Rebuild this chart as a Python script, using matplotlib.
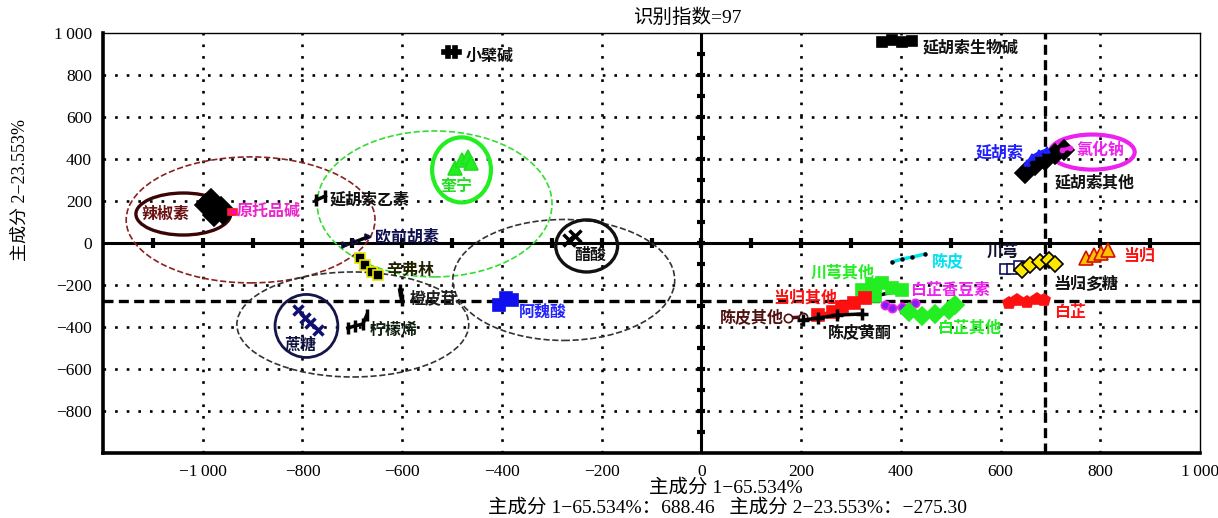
import numpy as np
import matplotlib.pyplot as plt
from matplotlib.patches import Ellipse

plt.rcParams['font.family'] = ['Liberation Serif', 'Noto Sans CJK SC']
plt.rcParams['axes.unicode_minus'] = True

# 主成分得分 (PC1, PC2)
la_jiao_su = [(-994, 181), (-978, 133), (-964, 167), (-984, 205), (-960, 143)]
yuan_tuo_pin_jian = [(-944, 148), (-938, 150)]
xiao_bo_jian = [(-509, 910), (-495, 910)]
yan_hu_suo_yi_su = [(-772, 205), (-754, 224)]
ou_qian_hu_su = [(-715, -10), (-695, 5), (-669, 29)]
xin_fu_lin = [(-685, -71), (-675, -105), (-661, -138), (-649, -152)]
cheng_pi_gan = [(-605, -224), (-603, -248), (-601, -271)]
ning_meng_xi = [(-709, -405), (-695, -395), (-679, -386), (-671, -343)]
zhe_tang = [(-808, -319), (-794, -357), (-784, -381), (-768, -414)]
kui_ning = [(-495, 357), (-481, 395), (-469, 410), (-461, 381)]
cu_suan = [(-265, 14), (-253, 33)]
a_wei_suan = [(-405, -295), (-391, -262), (-379, -271)]
yhs_sheng_wu_jian = [(363, 957), (383, 967), (403, 957), (423, 962)]
yan_hu_suo = [(653, 381), (663, 410), (677, 429), (693, 443)]
yhs_qi_ta = [(649, 333), (669, 371), (689, 395), (709, 425), (727, 443)]
lv_hua_na = [(723, 443), (739, 452)]
chuan_xiong = [(609, -124), (623, -124), (637, -110)]
dg_duo_tang = [(643, -129), (659, -105), (679, -90), (697, -81), (709, -100)]
dang_gui = [(772, -71), (788, -57), (802, -48), (816, -33)]
bai_zhi = [(617, -286), (633, -271), (653, -281), (673, -267), (687, -271)]
chen_pi = [(383, -90), (403, -76), (423, -67), (449, -52)]
cx_qi_ta = [(323, -224), (343, -200), (363, -190), (383, -214), (403, -224), (349, -252)]
bz_xiang_dou_su = [(369, -295), (383, -310), (403, -305), (429, -286)]
bz_qi_ta = [(417, -329), (443, -348), (469, -338), (497, -319), (509, -295)]
dg_qi_ta = [(233, -343), (263, -329), (283, -305), (307, -286), (329, -262)]
cp_qi_ta = [(174, -357), (204, -352)]
cp_huang_tong = [(204, -367), (234, -357), (273, -343), (323, -338)]

# 判别点
pc1_cut = 688.46
pc2_cut = -275.30

fig = plt.figure(figsize=(12.18, 5.18), dpi=100)
ax = fig.add_axes([103 / 1218, 1 - 453 / 518, 1097 / 1218, 420 / 518])
ax.set_xlim(-1200, 1000)
ax.set_ylim(-1000, 1000)


def fmt(v):
    s = f"{abs(v):,}".replace(",", "\u2009")
    return ("\u2212" if v < 0 else "") + s


xt = np.arange(-1000, 1001, 200)
yt = np.arange(-800, 1001, 200)
ax.set_xticks(xt)
ax.set_xticklabels([fmt(v) for v in xt], fontsize=12.5)
ax.set_yticks(yt)
ax.set_yticklabels([fmt(v) for v in yt], fontsize=12.5)
ax.tick_params(length=0, pad=8)

for side in ['left', 'bottom']:
    ax.spines[side].set_linewidth(2.6)
for side in ['top', 'right']:
    ax.spines[side].set_linewidth(1.0)

# 点状网格
dot = dict(color='black', lw=1.9, ls=(0, (1, 3.4)), zorder=1)
for v in np.arange(-1000, 801, 200):
    ax.axvline(v, **dot)
for v in np.arange(-800, 801, 200):
    ax.axhline(v, **dot)

# 坐标轴与刻度
ax.axhline(0, color='black', lw=2.2, zorder=2)
ax.axvline(0, color='black', lw=2.2, zorder=2)
ticks = np.arange(-1100, 1000, 100)
ax.plot(ticks, np.zeros_like(ticks), ls='none', marker='|', ms=7, mew=3, color='black', zorder=2)
ticks = np.arange(-900, 1000, 100)
ax.plot(np.zeros_like(ticks), ticks, ls='none', marker='_', ms=6, mew=3, color='black', zorder=2)

# 判别线
ax.axvline(pc1_cut, color='black', lw=2.4, ls=(0, (3, 1.6)), zorder=2)
ax.axhline(pc2_cut, color='black', lw=2.4, ls=(0, (3, 1.6)), zorder=2)

# 分组椭圆
ellipses = [
    ((-904, 110), 499, 600, '#8b2020', '--', 1.2),
    ((-535, 186), 471, 695, '#33dd33', '--', 1.2),
    ((-699, -388), 465, 500, '#333333', '--', 1.2),
    ((-276, -176), 445, 576, '#333333', '--', 1.2),
    ((-1039, 138), 190, 200, '#3a0505', '-', 2.4),
    ((-481, 348), 118, 310, '#22ee22', '-', 3.0),
    ((-792, -395), 126, 300, '#15154a', '-', 2.0),
    ((-230, -14), 124, 248, '#111111', '-', 2.4),
    ((784, 433), 170, 167, '#ee22ee', '-', 3.0),
]
for c, w, h, col, ls, lw in ellipses:
    ax.add_patch(Ellipse(c, w, h, fill=False, edgecolor=col, ls=ls, lw=lw, zorder=3))

# 各组样品：数据, 标记, 线色, 填充, 边框, 大小
groups = [
    (la_jiao_su, 'D', 'black', 'black', 'black', 11),
    (yuan_tuo_pin_jian, 's', '#ff2080', '#ff00cc', '#ff2020', 4),
    (xiao_bo_jian, 'P', 'black', 'black', 'black', 8),
    (yan_hu_suo_yi_su, '|', 'black', 'black', 'black', 9),
    (ou_qian_hu_su, '>', 'black', 'black', '#101040', 5),
    (xin_fu_lin, 's', 'black', 'black', '#e8e800', 7),
    (cheng_pi_gan, '|', 'black', 'black', 'black', 8),
    (ning_meng_xi, '|', 'black', '#20a020', 'black', 9),
    (zhe_tang, 'x', '#2020b0', '#2020b0', '#101070', 7),
    (kui_ning, '^', '#22ee22', '#22ee22', '#22dd22', 10),
    (cu_suan, 'x', 'black', 'black', 'black', 9),
    (a_wei_suan, 's', '#1010ee', '#1010ee', '#1010ee', 8),
    (yhs_sheng_wu_jian, 's', 'black', 'black', 'black', 7),
    (yhs_qi_ta, 'D', 'black', 'black', 'black', 10),
    (yan_hu_suo, '^', '#2020ff', '#2020ff', '#2020ff', 5),
    (lv_hua_na, 'o', '#ee22ee', '#ee22ee', '#ee22ee', 3),
    (chuan_xiong, 's', '#101060', 'white', '#101060', 7),
    (dg_duo_tang, 'D', 'black', '#ffe800', 'black', 8),
    (dang_gui, '^', '#ff2000', '#ffc000', '#d01000', 10),
    (bai_zhi, 'p', '#ff1010', '#ff1010', '#ff1010', 9),
    (chen_pi, '.', '#00e5ee', 'black', 'black', 4),
    (cx_qi_ta, 's', 'black', '#22ee22', '#22ee22', 9),
    (bz_xiang_dou_su, 'o', '#ee22ee', '#8020ee', '#ee22ee', 6),
    (bz_qi_ta, 'D', 'black', '#22ee22', '#22ee22', 9),
    (dg_qi_ta, 's', '#ff1010', '#ff1010', '#ff1010', 8),
    (cp_qi_ta, 'o', '#501010', 'white', '#501010', 6),
    (cp_huang_tong, '+', 'black', 'black', 'black', 8),
]
for pts, mk, lc, fc, ec, ms in groups:
    xs, ys = zip(*pts)
    ax.plot(xs, ys, color=lc, lw=2.5, marker=mk, mfc=fc, mec=ec, ms=ms,
            mew=2.5 if mk in '|x+_' else 1.2, zorder=4)

# 标签: 文字, x, y, 对齐, 颜色
labels = [
    ('辣椒素', -1075, 138, 'center', '#6b1010'),
    ('原托品碱', -932, 152, 'left', '#ee22cc'),
    ('小檗碱', -473, 890, 'left', '#111111'),
    ('延胡索乙素', -745, 205, 'left', '#111111'),
    ('欧前胡素', -655, 29, 'left', '#101050'),
    ('辛弗林', -631, -129, 'left', '#202000'),
    ('橙皮苷', -585, -262, 'left', '#202020'),
    ('柠檬烯', -665, -414, 'left', '#102010'),
    ('蔗糖', -804, -486, 'center', '#101040'),
    ('奎宁', -491, 271, 'center', '#22dd22'),
    ('醋酸', -222, -57, 'center', '#111111'),
    ('阿魏酸', -365, -333, 'left', '#2222ff'),
    ('延胡索生物碱', 443, 933, 'left', '#111111'),
    ('延胡索', 647, 433, 'right', '#2020ff'),
    ('延胡索其他', 709, 286, 'left', '#111111'),
    ('氯化钠', 800, 443, 'center', '#ee22ee'),
    ('川芎', 573, -40, 'left', '#101030'),
    ('当归多糖', 707, -195, 'left', '#111111'),
    ('当归', 846, -62, 'left', '#ff1010'),
    ('白芷', 707, -329, 'left', '#ff1010'),
    ('陈皮', 463, -86, 'left', '#00e0ee'),
    ('川芎其他', 220, -143, 'left', '#22ee22'),
    ('白芷香豆素', 419, -224, 'left', '#ee22ee'),
    ('白芷其他', 473, -405, 'left', '#22ee22'),
    ('当归其他', 144, -262, 'left', '#ff1010'),
    ('陈皮其他', 38, -352, 'left', '#501010'),
    ('陈皮黄酮', 253, -424, 'left', '#111111'),
]
for txt, x, y, ha, col in labels:
    ax.text(x, y, txt, ha=ha, va='center', color=col, fontsize=11.5,
            fontweight='bold', family=['Noto Sans CJK SC'], zorder=5)

fig.text(687 / 1218, 1 - 18 / 518, '识别指数=97', ha='center', va='center', fontsize=14)
fig.text(20 / 1218, 1 - 190 / 518, '主成分 2\u221223.553%', ha='center', va='center',
         rotation=90, fontsize=13)
fig.text(726 / 1218, 1 - 488 / 518, '主成分 1\u221265.534%', ha='center', va='center', fontsize=14)
fig.text(727 / 1218, 1 - 508 / 518,
         '主成分 1\u221265.534%：688.46   主成分 2\u221223.553%：\u2212275.30',
         ha='center', va='center', fontsize=14)

fig.savefig('out.png', dpi=100)
